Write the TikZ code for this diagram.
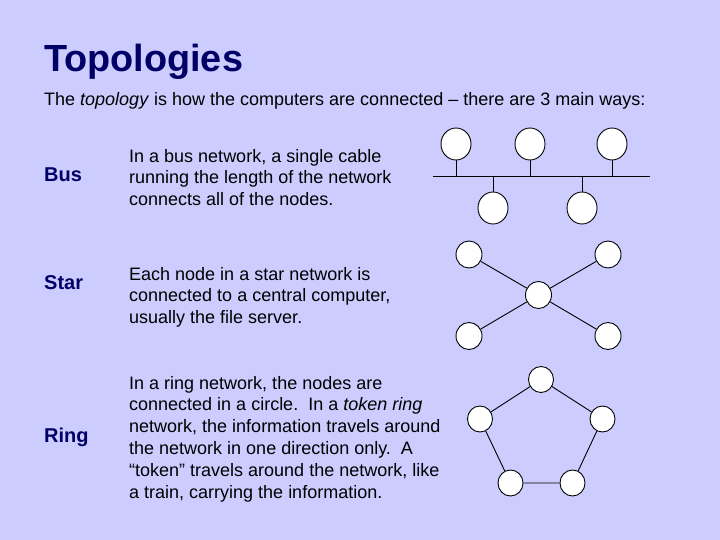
\documentclass[tikz,border=0pt]{standalone}
\usepackage{fontspec}
\setmainfont{Liberation Sans}
\usetikzlibrary{shapes.geometric}
\definecolor{bg}{HTML}{CCCCFF}
\definecolor{navy}{HTML}{000066}
\tikzset{
  pc/.style={ellipse, draw=black, fill=white, line width=0.9pt, inner sep=0pt},
  buspc/.style={pc, minimum width=30pt, minimum height=32pt},
  starpc/.style={pc, minimum width=26pt, minimum height=27pt},
  ringpc/.style={pc, minimum width=25pt, minimum height=26pt},
  wire/.style={line width=0.9pt, draw=black},
  body/.style={anchor=base west, inner sep=0pt, align=left, font=\fontsize{18}{21.8}\selectfont, text=black},
  lbl/.style={anchor=base west, inner sep=0pt, font=\fontsize{20}{24}\selectfont\bfseries, text=navy}
}
\begin{document}
\begin{tikzpicture}[x=1pt, y=-1pt]
\fill[bg] (0,0) rectangle (720,540);
\useasboundingbox (0,0) rectangle (720,540);
% title
\node[anchor=base west, inner sep=0pt, font=\fontsize{37.8}{42}\selectfont\bfseries, text=navy] (title) at (44,72) {Topologies};
\node[anchor=base west, inner sep=0pt, font=\fontsize{18}{21.8}\selectfont] (sub) at (44,106) {The \textit{topology} is how the computers are connected -- there are 3 main ways:};
% labels
\node[lbl] (lbus) at (44,182) {Bus};
\node[lbl] (lstar) at (44,289) {Star};
\node[lbl] (lring) at (44,442) {Ring};
% body texts (base = last line)
\node[body] (tbus) at (129,205.6) {In a bus network, a single cable\\running the length of the network\\connects all of the nodes.};
\node[body] (tstar) at (129,323.6) {Each node in a star network is\\connected to a central computer,\\usually the file server.};
\node[body] (tring) at (129,498) {In a ring network, the nodes are\\connected in a circle.\ \ In a \textit{token ring}\\network, the information travels around\\the network in one direction only.\ \ A\\``token'' travels around the network, like\\a train, carrying the information.};
% bus
\coordinate (busL) at (433,176);
\coordinate (busR) at (650,176);
\draw[wire] (busL) -- (busR);
\node[buspc] (b1) at (456,144) {};
\node[buspc] (b2) at (530,144) {};
\node[buspc] (b3) at (612,144) {};
\node[buspc] (b4) at (493,208) {};
\node[buspc] (b5) at (582,208) {};
\foreach \n in {b1,b2,b3,b4,b5} \draw[wire] (\n) -- (\n |- busL);
% star
\node[starpc] (sc) at (538.5,295) {};
\node[starpc] (s1) at (469,254.5) {};
\node[starpc] (s2) at (608,254.5) {};
\node[starpc] (s3) at (469,336) {};
\node[starpc] (s4) at (608,336) {};
\foreach \n in {s1,s2,s3,s4} \draw[wire] (sc) -- (\n);
% ring
\node[ringpc] (r1) at (541,379.5) {};
\node[ringpc] (r2) at (602.5,419) {};
\node[ringpc] (r3) at (572.5,483) {};
\node[ringpc] (r4) at (510.5,483) {};
\node[ringpc] (r5) at (480,419) {};
\draw[wire] (r1) -- (r2) (r2) -- (r3) (r3) -- (r4) (r4) -- (r5) (r5) -- (r1);
\end{tikzpicture}
\end{document}
